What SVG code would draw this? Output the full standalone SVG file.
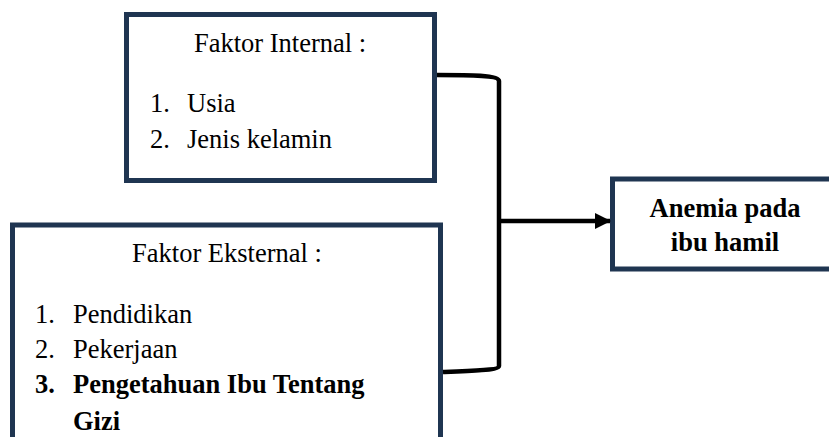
<svg xmlns="http://www.w3.org/2000/svg" width="829" height="437" viewBox="0 0 829 437">
<style>
.box{fill:#fff;stroke:#1f3551;stroke-width:5}
text{font-family:'Liberation Serif','Times New Roman',Tinos,'DejaVu Serif',serif;font-size:26.5px;fill:#000}
.b{font-weight:bold}
.conn{fill:none;stroke:#000;stroke-width:4.5}
</style>
<defs>
<marker id="arr" markerWidth="16" markerHeight="16" refX="15" refY="8" orient="auto" markerUnits="userSpaceOnUse">
<path d="M0,0 L16,8 L0,16 Z" fill="#000"/>
</marker>
</defs>
<rect width="829" height="437" fill="#fff"/>
<g id="internal" font-family="Liberation Serif, serif">
<rect class="box" x="126.5" y="14.5" width="308" height="166"/>
<text x="280" y="52" text-anchor="middle">Faktor Internal :</text>
<text x="150" y="112">1.</text>
<text x="187" y="112">Usia</text>
<text x="150" y="148">2.</text>
<text x="187" y="148">Jenis kelamin</text>
</g>
<g id="eksternal" font-family="Liberation Serif, serif">
<rect class="box" x="12.5" y="225" width="428" height="230"/>
<text x="227" y="262" text-anchor="middle">Faktor Eksternal :</text>
<text x="35" y="323">1.</text>
<text x="73" y="323">Pendidikan</text>
<text x="35" y="358">2.</text>
<text x="73" y="358">Pekerjaan</text>
<text class="b" x="35" y="393">3.</text>
<text class="b" x="73" y="393">Pengetahuan Ibu Tentang</text>
<text class="b" x="73" y="430">Gizi</text>
</g>
<g id="anemia" font-family="Liberation Serif, serif">
<rect class="box" x="612.5" y="179" width="222" height="90"/>
<text class="b" x="725" y="217" text-anchor="middle">Anemia pada</text>
<text class="b" x="725" y="251" text-anchor="middle">ibu hamil</text>
</g>
<g id="connectors">
<path class="conn" d="M437,75 C470,75 499,75 499,81 L499,366 C499,370 470,371 443,372"/>
<path class="conn" d="M499,221 L610,221" marker-end="url(#arr)"/>
</g>
</svg>
